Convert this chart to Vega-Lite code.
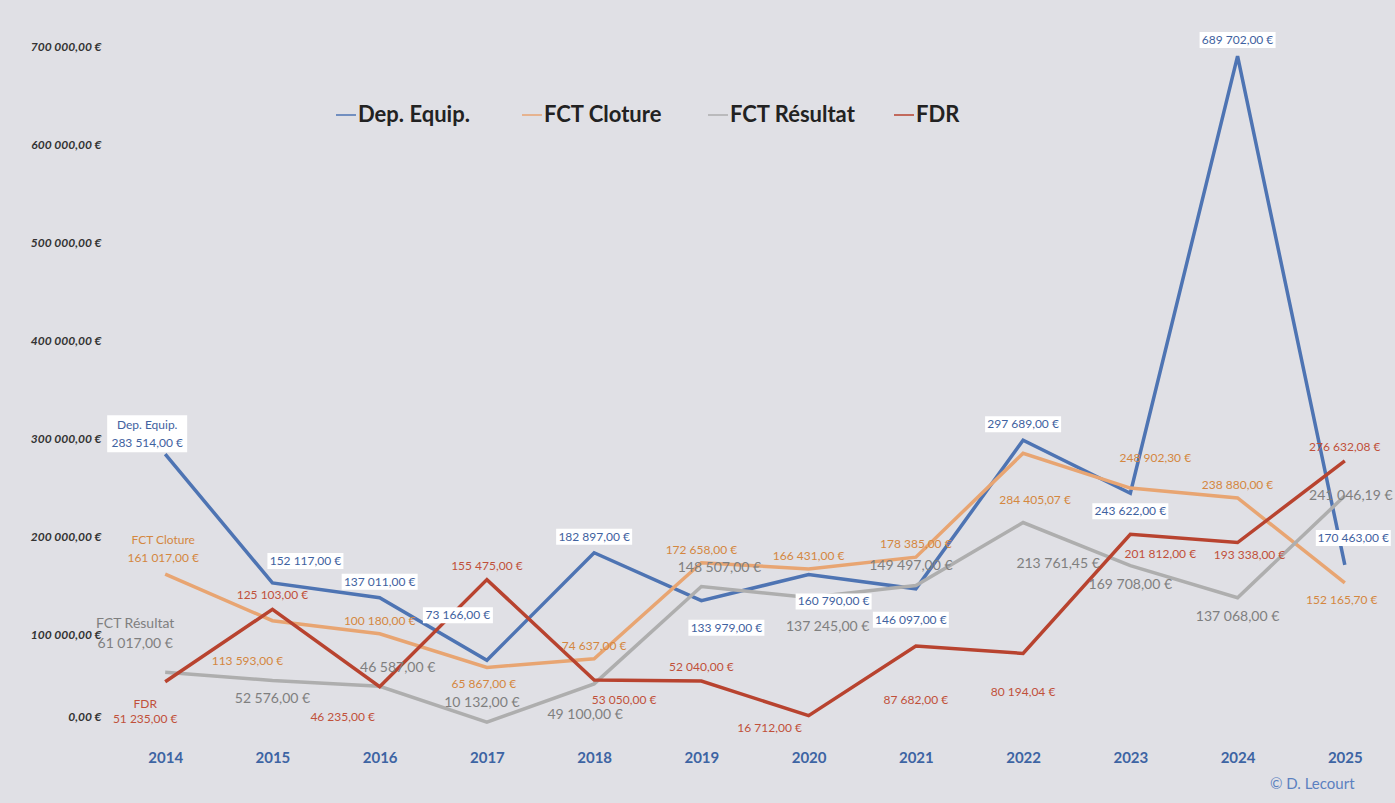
{
 "$schema": "https://vega.github.io/schema/vega-lite/v6.json",
 "width": 1274,
 "height": 686,
 "autosize": {"type": "none"},
 "padding": {"left": 118, "top": 46, "right": 3, "bottom": 71},
 "background": "#E0E0E5",
 "config": {
  "view": {"stroke": null},
  "font": "Lato",
  "locale": {"number": {"decimal": ",", "thousands": "\u00a0", "grouping": [3], "currency": ["", "\u00a0€"]}}
 },
 "title": {"text": "© D. Lecourt", "orient": "bottom", "anchor": "end", "fontSize": 15, "fontWeight": "normal", "color": "#5B80C0", "font": "Lato", "offset": 12, "dx": -38},
 "data": {"values": [
  {"year": 2014, "series": "Dep. Equip.", "value": 283514},
  {"year": 2015, "series": "Dep. Equip.", "value": 152117},
  {"year": 2016, "series": "Dep. Equip.", "value": 137011},
  {"year": 2017, "series": "Dep. Equip.", "value": 73166},
  {"year": 2018, "series": "Dep. Equip.", "value": 182897},
  {"year": 2019, "series": "Dep. Equip.", "value": 133979},
  {"year": 2020, "series": "Dep. Equip.", "value": 160790},
  {"year": 2021, "series": "Dep. Equip.", "value": 146097},
  {"year": 2022, "series": "Dep. Equip.", "value": 297689},
  {"year": 2023, "series": "Dep. Equip.", "value": 243622},
  {"year": 2024, "series": "Dep. Equip.", "value": 689702},
  {"year": 2025, "series": "Dep. Equip.", "value": 170463},
  {"year": 2014, "series": "FCT Cloture", "value": 161017},
  {"year": 2015, "series": "FCT Cloture", "value": 113593},
  {"year": 2016, "series": "FCT Cloture", "value": 100180},
  {"year": 2017, "series": "FCT Cloture", "value": 65867},
  {"year": 2018, "series": "FCT Cloture", "value": 74637},
  {"year": 2019, "series": "FCT Cloture", "value": 172658},
  {"year": 2020, "series": "FCT Cloture", "value": 166431},
  {"year": 2021, "series": "FCT Cloture", "value": 178385},
  {"year": 2022, "series": "FCT Cloture", "value": 284405.07},
  {"year": 2023, "series": "FCT Cloture", "value": 248902.30},
  {"year": 2024, "series": "FCT Cloture", "value": 238880},
  {"year": 2025, "series": "FCT Cloture", "value": 152165.70},
  {"year": 2014, "series": "FCT Résultat", "value": 61017},
  {"year": 2015, "series": "FCT Résultat", "value": 52576},
  {"year": 2016, "series": "FCT Résultat", "value": 46587},
  {"year": 2017, "series": "FCT Résultat", "value": 10132},
  {"year": 2018, "series": "FCT Résultat", "value": 49100},
  {"year": 2019, "series": "FCT Résultat", "value": 148507},
  {"year": 2020, "series": "FCT Résultat", "value": 137245},
  {"year": 2021, "series": "FCT Résultat", "value": 149497},
  {"year": 2022, "series": "FCT Résultat", "value": 213761.45},
  {"year": 2023, "series": "FCT Résultat", "value": 169708},
  {"year": 2024, "series": "FCT Résultat", "value": 137068},
  {"year": 2025, "series": "FCT Résultat", "value": 241046.19},
  {"year": 2014, "series": "FDR", "value": 51235},
  {"year": 2015, "series": "FDR", "value": 125103},
  {"year": 2016, "series": "FDR", "value": 46235},
  {"year": 2017, "series": "FDR", "value": 155475},
  {"year": 2018, "series": "FDR", "value": 53050},
  {"year": 2019, "series": "FDR", "value": 52040},
  {"year": 2020, "series": "FDR", "value": 16712},
  {"year": 2021, "series": "FDR", "value": 87682},
  {"year": 2022, "series": "FDR", "value": 80194.04},
  {"year": 2023, "series": "FDR", "value": 201812},
  {"year": 2024, "series": "FDR", "value": 193338},
  {"year": 2025, "series": "FDR", "value": 276632.08}
 ]},
 "encoding": {
  "x": {"field": "year", "type": "ordinal", "scale": {"type": "point", "padding": 0.44},
   "axis": {"title": null, "labelAngle": 0, "domain": false, "ticks": false, "labelFontSize": 15, "labelFontWeight": "bold", "labelColor": "#3D64A3", "labelPadding": 18}},
  "y": {"field": "value", "type": "quantitative", "scale": {"domain": [0, 700000], "nice": false},
   "axis": {"title": null, "values": [0, 100000, 200000, 300000, 400000, 500000, 600000, 700000], "format": "$,.2f", "domain": false, "ticks": false, "grid": false, "labelFontSize": 12, "labelFontStyle": "italic", "labelFontWeight": "bold", "labelColor": "#333333", "labelPadding": 17,
    "labelOffset": {"condition": {"test": "datum.value === 0", "value": -16}, "value": 0}}}
 },
 "layer": [
  {"mark": {"type": "line", "strokeWidth": 3.5},
   "encoding": {"color": {"field": "series", "type": "nominal",
    "scale": {"domain": ["Dep. Equip.", "FCT Cloture", "FCT Résultat", "FDR"], "range": ["#4E74B3", "#E8A572", "#AEAEAE", "#B8432F"]},
    "legend": {"orient": "none", "legendX": 217, "legendY": 58, "direction": "horizontal", "columns": 4, "gridAlign": "all", "columnPadding": 35, "symbolType": "stroke", "symbolSize": 400, "symbolStrokeWidth": 1.5, "labelFontSize": 22, "labelFontWeight": "bold", "labelFont": "Lato", "labelColor": "#222222", "labelOffset": 1, "labelLimit": 0, "title": null}}}},

  {"transform": [{"filter": "datum.series==='Dep. Equip.' && indexof([2016,2018,2022,2024],datum.year)>=0"}], "mark": {"type": "point", "shape": "M-38,-24L38,-24L38,-8L-38,-8Z", "size": 4, "filled": true, "color": "#FFFFFF", "opacity": 1, "strokeWidth": 0}},
  {"transform": [{"filter": "datum.series==='Dep. Equip.' && datum.year===2014"}], "mark": {"type": "point", "shape": "M-58,-39L22,-39L22,-2L-58,-2Z", "size": 4, "filled": true, "color": "#FFFFFF", "opacity": 1, "strokeWidth": 0}},
  {"transform": [{"filter": "datum.series==='Dep. Equip.' && datum.year===2015"}], "mark": {"type": "point", "shape": "M-5,-30L71,-30L71,-14L-5,-14Z", "size": 4, "filled": true, "color": "#FFFFFF", "opacity": 1, "strokeWidth": 0}},
  {"transform": [{"filter": "datum.series==='Dep. Equip.' && datum.year===2017"}], "mark": {"type": "point", "shape": "M-64,-53L6,-53L6,-37L-64,-37Z", "size": 4, "filled": true, "color": "#FFFFFF", "opacity": 1, "strokeWidth": 0}},
  {"transform": [{"filter": "datum.series==='Dep. Equip.' && indexof([2019,2020],datum.year)>=0"}], "mark": {"type": "point", "shape": "M-13,19L63,19L63,35L-13,35Z", "size": 4, "filled": true, "color": "#FFFFFF", "opacity": 1, "strokeWidth": 0}},
  {"transform": [{"filter": "datum.series==='Dep. Equip.' && datum.year===2021"}], "mark": {"type": "point", "shape": "M-43,23L33,23L33,39L-43,39Z", "size": 4, "filled": true, "color": "#FFFFFF", "opacity": 1, "strokeWidth": 0}},
  {"transform": [{"filter": "datum.series==='Dep. Equip.' && datum.year===2023"}], "mark": {"type": "point", "shape": "M-38,10L38,10L38,26L-38,26Z", "size": 4, "filled": true, "color": "#FFFFFF", "opacity": 1, "strokeWidth": 0}},
  {"transform": [{"filter": "datum.series==='Dep. Equip.' && datum.year===2025"}], "mark": {"type": "point", "shape": "M-29,-35L46,-35L46,-19L-29,-19Z", "size": 4, "filled": true, "color": "#FFFFFF", "opacity": 1, "strokeWidth": 0}},

  {"transform": [{"filter": "datum.series==='Dep. Equip.' && indexof([2016,2018,2022,2024],datum.year)>=0"}], "mark": {"type": "text", "color": "#3F62A0", "fontSize": 12, "dx": 0, "dy": -16}, "encoding": {"text": {"field": "value", "type": "quantitative", "format": "$,.2f"}}},
  {"transform": [{"filter": "datum.series==='Dep. Equip.' && datum.year===2014"}], "mark": {"type": "text", "color": "#3F62A0", "fontSize": 12, "dx": -18, "dy": -11}, "encoding": {"text": {"field": "value", "type": "quantitative", "format": "$,.2f"}}},
  {"transform": [{"filter": "datum.series==='Dep. Equip.' && datum.year===2014"}], "mark": {"type": "text", "color": "#3F62A0", "fontSize": 12, "dx": -18, "dy": -29}, "encoding": {"text": {"field": "series", "type": "nominal"}}},
  {"transform": [{"filter": "datum.series==='Dep. Equip.' && datum.year===2015"}], "mark": {"type": "text", "color": "#3F62A0", "fontSize": 12, "dx": 33, "dy": -22}, "encoding": {"text": {"field": "value", "type": "quantitative", "format": "$,.2f"}}},
  {"transform": [{"filter": "datum.series==='Dep. Equip.' && datum.year===2017"}], "mark": {"type": "text", "color": "#3F62A0", "fontSize": 12, "dx": -29, "dy": -45}, "encoding": {"text": {"field": "value", "type": "quantitative", "format": "$,.2f"}}},
  {"transform": [{"filter": "datum.series==='Dep. Equip.' && indexof([2019,2020],datum.year)>=0"}], "mark": {"type": "text", "color": "#3F62A0", "fontSize": 12, "dx": 25, "dy": 27}, "encoding": {"text": {"field": "value", "type": "quantitative", "format": "$,.2f"}}},
  {"transform": [{"filter": "datum.series==='Dep. Equip.' && datum.year===2021"}], "mark": {"type": "text", "color": "#3F62A0", "fontSize": 12, "dx": -5, "dy": 31}, "encoding": {"text": {"field": "value", "type": "quantitative", "format": "$,.2f"}}},
  {"transform": [{"filter": "datum.series==='Dep. Equip.' && datum.year===2023"}], "mark": {"type": "text", "color": "#3F62A0", "fontSize": 12, "dx": 0, "dy": 18}, "encoding": {"text": {"field": "value", "type": "quantitative", "format": "$,.2f"}}},
  {"transform": [{"filter": "datum.series==='Dep. Equip.' && datum.year===2025"}], "mark": {"type": "text", "color": "#3F62A0", "fontSize": 12, "dx": 8.5, "dy": -27}, "encoding": {"text": {"field": "value", "type": "quantitative", "format": "$,.2f"}}},

  {"transform": [{"filter": "datum.series==='FCT Cloture' && indexof([2016,2018,2019,2020,2021,2024],datum.year)>=0"}], "mark": {"type": "text", "color": "#D4873F", "fontSize": 12, "dx": 0, "dy": -13}, "encoding": {"text": {"field": "value", "type": "quantitative", "format": "$,.2f"}}},
  {"transform": [{"filter": "datum.series==='FCT Cloture' && datum.year===2014"}], "mark": {"type": "text", "color": "#D4873F", "fontSize": 12, "dx": -2, "dy": -16}, "encoding": {"text": {"field": "value", "type": "quantitative", "format": "$,.2f"}}},
  {"transform": [{"filter": "datum.series==='FCT Cloture' && datum.year===2014"}], "mark": {"type": "text", "color": "#D4873F", "fontSize": 12, "dx": -2, "dy": -34}, "encoding": {"text": {"field": "series", "type": "nominal"}}},
  {"transform": [{"filter": "datum.series==='FCT Cloture' && datum.year===2015"}], "mark": {"type": "text", "color": "#D4873F", "fontSize": 12, "dx": -25, "dy": 40}, "encoding": {"text": {"field": "value", "type": "quantitative", "format": "$,.2f"}}},
  {"transform": [{"filter": "datum.series==='FCT Cloture' && indexof([2017,2025],datum.year)>=0"}], "mark": {"type": "text", "color": "#D4873F", "fontSize": 12, "dx": -3, "dy": 17}, "encoding": {"text": {"field": "value", "type": "quantitative", "format": "$,.2f"}}},
  {"transform": [{"filter": "datum.series==='FCT Cloture' && datum.year===2022"}], "mark": {"type": "text", "color": "#D4873F", "fontSize": 12, "dx": 12, "dy": 47}, "encoding": {"text": {"field": "value", "type": "quantitative", "format": "$,.2f"}}},
  {"transform": [{"filter": "datum.series==='FCT Cloture' && datum.year===2023"}], "mark": {"type": "text", "color": "#D4873F", "fontSize": 12, "dx": 25, "dy": -30}, "encoding": {"text": {"field": "value", "type": "quantitative", "format": "$,.2f"}}},

  {"transform": [{"filter": "datum.series==='FCT Résultat' && indexof([2015,2023,2024],datum.year)>=0"}], "mark": {"type": "text", "color": "#7F7F7F", "fontSize": 14, "dx": 0, "dy": 19}, "encoding": {"text": {"field": "value", "type": "quantitative", "format": "$,.2f"}}},
  {"transform": [{"filter": "datum.series==='FCT Résultat' && indexof([2016,2019],datum.year)>=0"}], "mark": {"type": "text", "color": "#7F7F7F", "fontSize": 14, "dx": 18, "dy": -18}, "encoding": {"text": {"field": "value", "type": "quantitative", "format": "$,.2f"}}},
  {"transform": [{"filter": "datum.series==='FCT Résultat' && indexof([2017,2021],datum.year)>=0"}], "mark": {"type": "text", "color": "#7F7F7F", "fontSize": 14, "dx": -5, "dy": -19}, "encoding": {"text": {"field": "value", "type": "quantitative", "format": "$,.2f"}}},
  {"transform": [{"filter": "datum.series==='FCT Résultat' && datum.year===2018"}], "mark": {"type": "text", "color": "#7F7F7F", "fontSize": 14, "dx": -9, "dy": 31}, "encoding": {"text": {"field": "value", "type": "quantitative", "format": "$,.2f"}}},
  {"transform": [{"filter": "datum.series==='FCT Résultat' && datum.year===2020"}], "mark": {"type": "text", "color": "#7F7F7F", "fontSize": 14, "dx": 19, "dy": 30}, "encoding": {"text": {"field": "value", "type": "quantitative", "format": "$,.2f"}}},
  {"transform": [{"filter": "datum.series==='FCT Résultat' && datum.year===2022"}], "mark": {"type": "text", "color": "#7F7F7F", "fontSize": 14, "dx": 35, "dy": 41}, "encoding": {"text": {"field": "value", "type": "quantitative", "format": "$,.2f"}}},
  {"transform": [{"filter": "datum.series==='FCT Résultat' && datum.year===2025"}], "mark": {"type": "text", "color": "#7F7F7F", "fontSize": 14, "dx": 6, "dy": 0}, "encoding": {"text": {"field": "value", "type": "quantitative", "format": "$,.2f"}}},
  {"transform": [{"filter": "datum.series==='FCT Résultat' && datum.year===2014"}], "mark": {"type": "text", "color": "#7F7F7F", "fontSize": 14, "dx": -30, "dy": -28}, "encoding": {"text": {"field": "value", "type": "quantitative", "format": "$,.2f"}}},
  {"transform": [{"filter": "datum.series==='FCT Résultat' && datum.year===2014"}], "mark": {"type": "text", "color": "#7F7F7F", "fontSize": 14, "dx": -30, "dy": -48}, "encoding": {"text": {"field": "series", "type": "nominal"}}},

  {"transform": [{"filter": "datum.series==='FDR' && indexof([2015,2017,2019,2025],datum.year)>=0"}], "mark": {"type": "text", "color": "#C0503A", "fontSize": 12, "dx": 0, "dy": -14}, "encoding": {"text": {"field": "value", "type": "quantitative", "format": "$,.2f"}}},
  {"transform": [{"filter": "datum.series==='FDR' && datum.year===2014"}], "mark": {"type": "text", "color": "#C0503A", "fontSize": 12, "dx": -20, "dy": 37}, "encoding": {"text": {"field": "value", "type": "quantitative", "format": "$,.2f"}}},
  {"transform": [{"filter": "datum.series==='FDR' && datum.year===2014"}], "mark": {"type": "text", "color": "#C0503A", "fontSize": 12, "dx": -20, "dy": 22}, "encoding": {"text": {"field": "series", "type": "nominal"}}},
  {"transform": [{"filter": "datum.series==='FDR' && datum.year===2016"}], "mark": {"type": "text", "color": "#C0503A", "fontSize": 12, "dx": -37, "dy": 30}, "encoding": {"text": {"field": "value", "type": "quantitative", "format": "$,.2f"}}},
  {"transform": [{"filter": "datum.series==='FDR' && datum.year===2020"}], "mark": {"type": "text", "color": "#C0503A", "fontSize": 12, "dx": -39, "dy": 12}, "encoding": {"text": {"field": "value", "type": "quantitative", "format": "$,.2f"}}},
  {"transform": [{"filter": "datum.series==='FDR' && indexof([2018,2023],datum.year)>=0"}], "mark": {"type": "text", "color": "#C0503A", "fontSize": 12, "dx": 30, "dy": 20}, "encoding": {"text": {"field": "value", "type": "quantitative", "format": "$,.2f"}}},
  {"transform": [{"filter": "datum.series==='FDR' && datum.year===2021"}], "mark": {"type": "text", "color": "#C0503A", "fontSize": 12, "dx": 0, "dy": 54}, "encoding": {"text": {"field": "value", "type": "quantitative", "format": "$,.2f"}}},
  {"transform": [{"filter": "datum.series==='FDR' && datum.year===2022"}], "mark": {"type": "text", "color": "#C0503A", "fontSize": 12, "dx": 0, "dy": 39}, "encoding": {"text": {"field": "value", "type": "quantitative", "format": "$,.2f"}}},
  {"transform": [{"filter": "datum.series==='FDR' && datum.year===2024"}], "mark": {"type": "text", "color": "#C0503A", "fontSize": 12, "dx": 12, "dy": 12}, "encoding": {"text": {"field": "value", "type": "quantitative", "format": "$,.2f"}}}
 ]
}
